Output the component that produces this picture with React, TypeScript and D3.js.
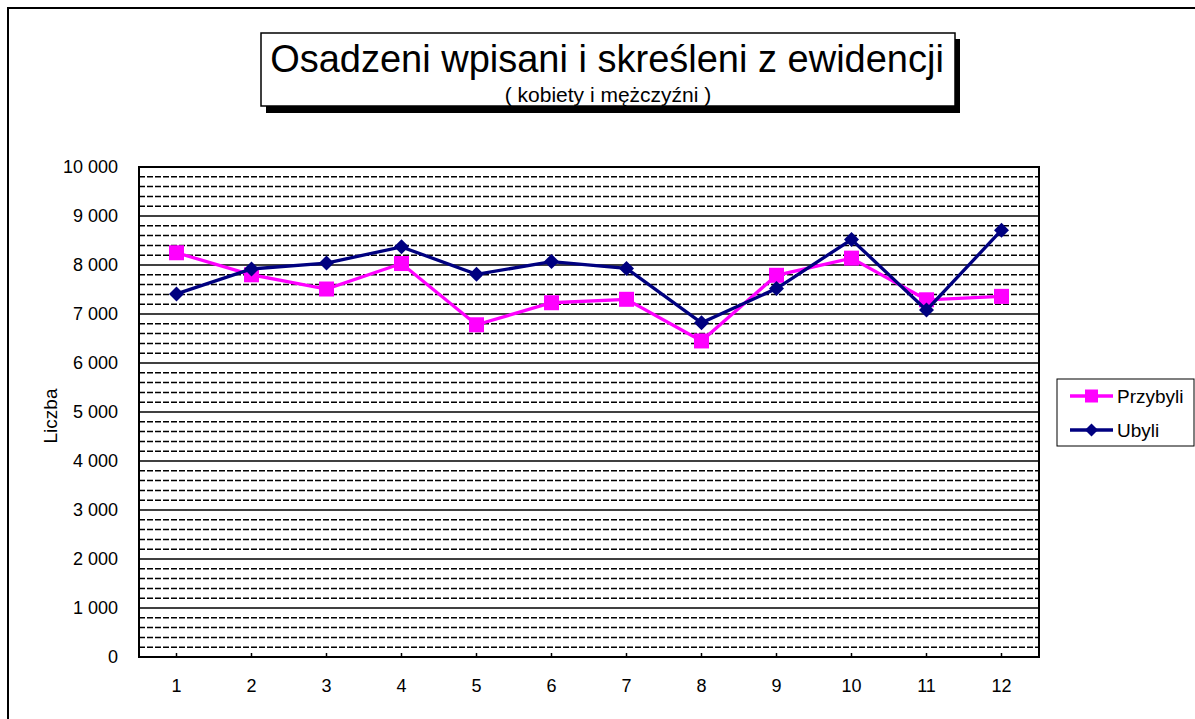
import React from "react";
import * as d3 from "d3";

const months = ["1", "2", "3", "4", "5", "6", "7", "8", "9", "10", "11", "12"];
const przybyli = [8250, 7800, 7510, 8030, 6780, 7230, 7300, 6450, 7790, 8140, 7290, 7360];
const ubyli = [7410, 7920, 8040, 8370, 7810, 8070, 7930, 6820, 7520, 8520, 7080, 8710];
const yTicks = [0, 1000, 2000, 3000, 4000, 5000, 6000, 7000, 8000, 9000, 10000];
const seriesNames = ["Przybyli", "Ubyli"];
const seriesColors = ["#FF00FF", "#000080"];

const FONT = "Arial, 'Liberation Sans', sans-serif";

export default function App() {
  const W = 1195, H = 719;
  const plot = { left: 139, right: 1039, top: 167, bottom: 657 };
  const x = d3.scaleBand<string>().domain(months).range([plot.left, plot.right]);
  const y = d3.scaleLinear().domain([0, 10000]).range([plot.bottom, plot.top]);
  const cx = (m: string) => (x(m) as number) + x.bandwidth() / 2;
  const minor = d3.range(200, 10000, 200).filter((v) => v % 1000 !== 0);
  const major = yTicks.filter((v) => v > 0 && v < 10000);
  const line = d3
    .line<number>()
    .x((_, i) => cx(months[i]))
    .y((v) => y(v));
  const fmt = (v: number) => d3.format(",")(v).replace(/,/g, " ");

  const square = (px: number, py: number, s: number, color: string, key?: any) => (
    <rect key={key} x={px - s / 2} y={py - s / 2} width={s} height={s} fill={color} />
  );
  const diamond = (px: number, py: number, s: number, color: string, key?: any) => (
    <path
      key={key}
      d={`M${px},${py - s / 2}L${px + s / 2},${py}L${px},${py + s / 2}L${px - s / 2},${py}Z`}
      fill={color}
    />
  );

  return (
    <svg
      width={W}
      height={H}
      style={{ position: "absolute", left: 0, top: 0, background: "#fff" }}
      fontFamily={FONT}
    >
      <rect x={8} y={8} width={1300} height={800} fill="#fff" stroke="#000" strokeWidth={2} />

      {/* title box */}
      <rect x={266} y={39} width={694} height={74} fill="#000" />
      <rect x={261} y={33} width={694} height={73} fill="#fff" stroke="#000" strokeWidth={1.5} />
      <text x={607} y={72} textAnchor="middle" fontSize={38} fill="#000">
        Osadzeni wpisani i skreśleni z ewidencji
      </text>
      <text x={608} y={102} textAnchor="middle" fontSize={21} fill="#000">
        ( kobiety i mężczyźni )
      </text>

      {/* gridlines */}
      {minor.map((v) => (
        <line
          key={"mi" + v}
          x1={plot.left}
          x2={plot.right}
          y1={y(v)}
          y2={y(v)}
          stroke="#000"
          strokeWidth={1.5}
          strokeDasharray="6,2"
        />
      ))}
      {major.map((v) => (
        <line key={"ma" + v} x1={plot.left} x2={plot.right} y1={y(v)} y2={y(v)} stroke="#000" strokeWidth={1.5} />
      ))}
      <rect
        x={plot.left}
        y={plot.top}
        width={plot.right - plot.left}
        height={plot.bottom - plot.top}
        fill="none"
        stroke="#000"
        strokeWidth={2}
      />

      {/* y ticks */}
      {yTicks.map((v) => (
        <text key={"yt" + v} x={118} y={y(v)} dy="0.35em" textAnchor="end" fontSize={18} fill="#000">
          {fmt(v)}
        </text>
      ))}
      {/* x ticks */}
      {months.map((m) => (
        <g key={"xt" + m}>
          <line x1={cx(m)} x2={cx(m)} y1={plot.bottom} y2={plot.bottom - 4} stroke="#000" strokeWidth={1.5} />
          <text x={cx(m)} y={686} dy="0.35em" textAnchor="middle" fontSize={18} fill="#000">
            {m}
          </text>
        </g>
      ))}
      <text
        transform={`translate(50,416) rotate(-90)`}
        textAnchor="middle"
        dy="0.35em"
        fontSize={19}
        fill="#000"
      >
        Liczba
      </text>

      {/* series */}
      <path d={line(przybyli) || ""} fill="none" stroke={seriesColors[0]} strokeWidth={3.3} />
      {przybyli.map((v, i) => square(cx(months[i]), y(v), 15, seriesColors[0], "p" + i))}
      <path d={line(ubyli) || ""} fill="none" stroke={seriesColors[1]} strokeWidth={3.3} />
      {ubyli.map((v, i) => diamond(cx(months[i]), y(v), 15, seriesColors[1], "u" + i))}

      {/* legend */}
      <rect x={1057} y={379} width={137} height={67} fill="#fff" stroke="#000" strokeWidth={1} />
      {seriesNames.map((n, i) => {
        const ly = 396 + i * 34;
        return (
          <g key={"lg" + n}>
            <line x1={1070} x2={1113} y1={ly} y2={ly} stroke={seriesColors[i]} strokeWidth={3.3} />
            {i === 0 ? square(1091.5, ly, 13, seriesColors[i]) : diamond(1091.5, ly, 13, seriesColors[i])}
            <text x={1117} y={ly} dy="0.35em" fontSize={19} fill="#000">
              {n}
            </text>
          </g>
        );
      })}
    </svg>
  );
}
